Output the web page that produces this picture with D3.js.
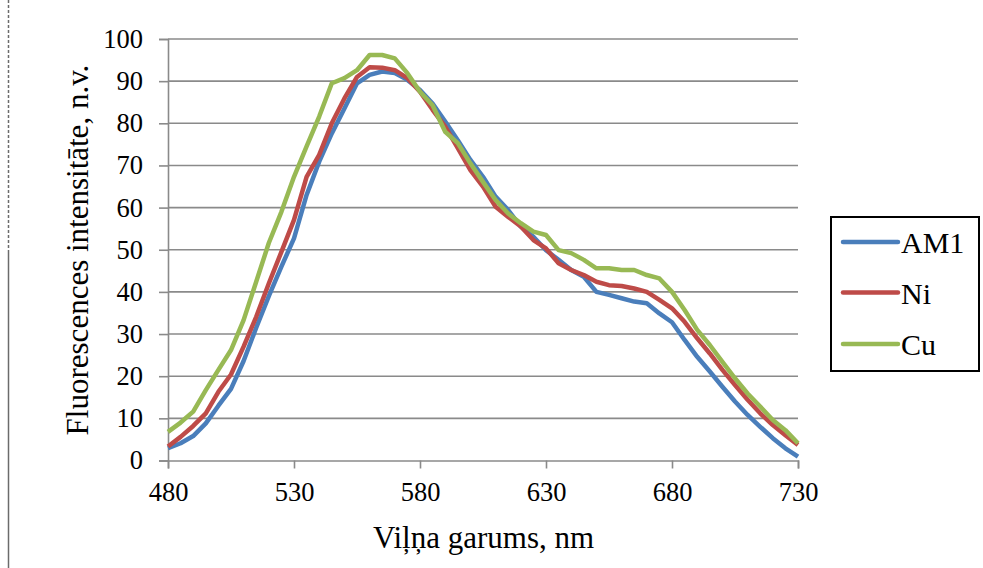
<!DOCTYPE html>
<html>
<head>
<meta charset="utf-8">
<script src="https://cdn.jsdelivr.net/npm/d3@7"></script>
<style>
  html, body { margin: 0; padding: 0; background: #fff; }
  svg { display: block; }
</style>
</head>
<body>
<svg id="chart" width="983" height="568"></svg>
<script>
// ---- data ----
const wavelengths = [480,485,490,495,500,505,510,515,520,525,530,535,540,545,550,555,560,565,570,575,580,585,590,595,600,605,610,615,620,625,630,635,640,645,650,655,660,665,670,675,680,685,690,695,700,705,710,715,720,725,730];
const am1 = [2.9,4.1,5.8,8.8,13.0,17.0,23.6,31.5,39.0,46.0,52.7,63.0,70.9,77.6,83.5,89.5,91.5,92.3,91.9,90.3,87.9,84.7,80.4,76.0,71.3,67.3,62.6,59.4,55.5,53.1,49.9,47.6,45.2,43.6,40.0,39.3,38.5,37.7,37.3,34.9,32.8,28.6,24.6,21.1,17.5,14.0,10.8,8.0,5.3,2.9,0.9];
const ni  = [3.3,5.6,8.2,11.2,16.3,20.4,27.0,34.1,42.0,49.5,57.1,67.3,72.5,80.0,85.9,91.0,93.3,93.2,92.6,90.7,87.5,83.2,79.2,74.1,68.9,65.0,60.2,57.8,55.5,52.3,50.3,46.8,45.2,44.0,42.4,41.6,41.4,40.8,40.0,38.1,36.1,32.9,29.0,25.4,21.5,17.9,14.4,11.2,8.4,6.0,3.7];
const cu  = [6.8,9.0,11.6,16.7,21.5,26.2,33.3,42.4,51.6,59.0,67.3,74.5,81.6,89.5,90.7,92.6,96.2,96.2,95.4,91.9,87.5,84.3,78.0,75.3,70.5,66.1,61.8,58.6,56.3,54.3,53.5,49.9,49.2,47.6,45.6,45.6,45.2,45.2,44.0,43.2,40.0,35.7,31.0,27.4,23.4,19.5,15.9,12.8,9.6,7.2,4.1];
const seriesNames = ["AM1","Ni","Cu"];
const seriesColors = ["#4A7EBB","#BE4B48","#98B954"];
const xTicks = [480,530,580,630,680,730];
const yTicks = [0,10,20,30,40,50,60,70,80,90,100];
const xTitle = "Viļņa garums, nm";
const yTitle = "Fluorescences intensitāte, n.v.";

const seriesValues = [am1, ni, cu];

// ---- layout ----
const svg = d3.select("#chart");
const x = d3.scaleLinear().domain([480,730]).range([168,798]);
const y = d3.scaleLinear().domain([0,100]).range([460.5,39]);
const serif = "Liberation Serif";

// left page edge line
svg.append("line").attr("x1",8.5).attr("x2",8.5).attr("y1",0).attr("y2",253)
  .attr("stroke","#6b6b6b").attr("stroke-width",1.5).attr("stroke-dasharray","3,2");
svg.append("line").attr("x1",8.5).attr("x2",8.5).attr("y1",253).attr("y2",568)
  .attr("stroke","#6b6b6b").attr("stroke-width",1.5);

// gridlines
svg.append("g").selectAll("line").data(yTicks.filter(d=>d>0)).join("line")
  .attr("x1",168).attr("x2",798)
  .attr("y1",d=>y(d)).attr("y2",d=>y(d))
  .attr("stroke","#8a8a8a").attr("stroke-width",1.6);

// y axis
const yAxis = svg.append("g").attr("transform","translate(168,0)")
  .call(d3.axisLeft(y).tickValues(yTicks).tickSize(9).tickPadding(16).tickFormat(d3.format("d")));
yAxis.attr("font-family",serif).attr("font-size",26.5);
yAxis.select(".domain").attr("stroke","#8a8a8a").attr("stroke-width",1.6);
yAxis.selectAll(".tick line").attr("stroke","#8a8a8a").attr("stroke-width",1.6);
yAxis.selectAll(".tick text").style("font-family",serif).style("font-size","26.5px").attr("fill","#000");

// x axis
const xAxis = svg.append("g").attr("transform","translate(0,460.5)")
  .call(d3.axisBottom(x).tickValues(xTicks).tickSize(8).tickPadding(14).tickFormat(d3.format("d")));
xAxis.attr("font-family",serif).attr("font-size",26.5);
xAxis.select(".domain").attr("stroke","#8a8a8a").attr("stroke-width",1.6);
xAxis.selectAll(".tick line").attr("stroke","#8a8a8a").attr("stroke-width",1.6);
xAxis.selectAll(".tick text").style("font-family",serif).style("font-size","26.5px").attr("fill","#000");

// series lines
const line = d3.line().x((d,i)=>x(wavelengths[i])).y(d=>y(d));
svg.append("g").selectAll("path").data(seriesValues).join("path")
  .attr("d",d=>line(d))
  .attr("fill","none")
  .attr("stroke",(d,i)=>seriesColors[i])
  .attr("stroke-width",4.5)
  .attr("stroke-linejoin","round");

// axis titles
svg.append("text").attr("x",483.5).attr("y",548)
  .attr("text-anchor","middle").style("font-family",serif).style("font-size","31px")
  .attr("fill","#000").text(xTitle);
svg.append("text").attr("transform","translate(88,250) rotate(-90)")
  .attr("text-anchor","middle").style("font-family",serif).style("font-size","31px")
  .attr("fill","#000").text(yTitle);

// legend
const lg = svg.append("g");
lg.append("rect").attr("x",831).attr("y",217).attr("width",148).attr("height",154)
  .attr("fill","#fff").attr("stroke","#000").attr("stroke-width",2);
const legY = [242, 292.5, 344];
seriesNames.forEach((n,i)=>{
  lg.append("line").attr("x1",843).attr("x2",898).attr("y1",legY[i]).attr("y2",legY[i])
    .attr("stroke",seriesColors[i]).attr("stroke-width",4.5).attr("stroke-linecap","round");
  lg.append("text").attr("x",901).attr("y",legY[i]+11).style("font-family",serif)
    .style("font-size","30px").attr("fill","#000").text(n);
});
</script>
</body>
</html>
